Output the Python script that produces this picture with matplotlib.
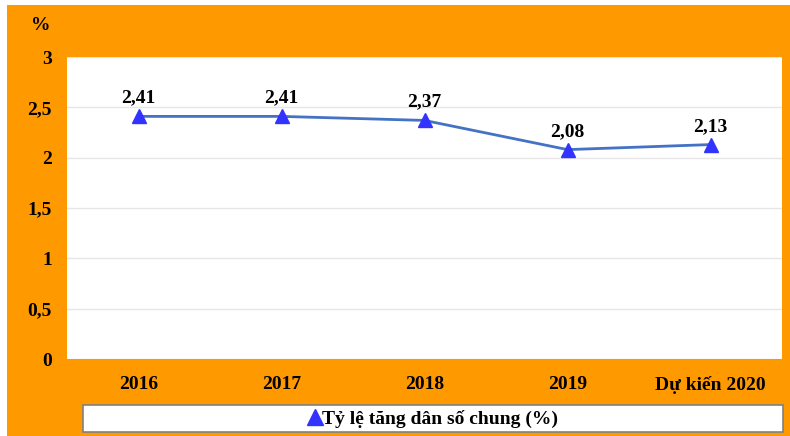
#!/usr/bin/env python3

import matplotlib
matplotlib.use( 'Agg' )
import matplotlib.pyplot as plt
from matplotlib.patches import Rectangle
from matplotlib.lines import Line2D

plt.rcParams['font.family'] = [ 'Liberation Serif', 'DejaVu Serif' ]
plt.rcParams['font.weight'] = 'bold'

years  = [ '2016', '2017', '2018', '2019', 'Dự kiến 2020' ]
rate   = [ 2.41, 2.41, 2.37, 2.08, 2.13 ]
labels = [ '2,41', '2,41', '2,37', '2,08', '2,13' ]
yTicks = [ 0, 0.5, 1, 1.5, 2, 2.5, 3 ]
yTickLabels = [ '0', '0,5', '1', '1,5', '2', '2,5', '3' ]
legLabel = 'Tỷ lệ tăng dân số chung (%)'

orange = '#FF9900'
W, H = 790, 436
fs = 14

fig = plt.figure( figsize = ( W / 100, H / 100 ), dpi = 100 )
fig.patch.set_facecolor( 'white' )
fig.patches.append( Rectangle( ( 7 / W, 0 ), 1 - 7 / W, 1 - 5 / H, \
                               transform = fig.transFigure, \
                               facecolor = orange, edgecolor = 'none', \
                               zorder = -10 ) )

ax = fig.add_axes( [ 67 / W, 1 - 359 / H, 715 / W, 302 / H ] )
ax.set_facecolor( 'white' )

x = list( range( len( years ) ) )
ax.plot( x, rate, color = '#4472C4', lw = 2.0, marker = '^', ms = 10, \
         mfc = '#3333FF', mec = '#3333FF', zorder = 3 )

for i in x:
    ax.annotate( labels[i], ( x[i], rate[i] ), xytext = ( 0, 7 ), \
                 textcoords = 'offset points', ha = 'center', va = 'bottom', \
                 fontsize = fs, fontweight = 'bold', color = 'black' )

ax.set_xlim( -0.5, len( years ) - 0.5 )
ax.set_ylim( 0, 3 )
ax.set_xticks( x )
ax.set_xticklabels( years, fontsize = fs, fontweight = 'bold' )
ax.set_yticks( yTicks )
ax.set_yticklabels( yTickLabels, fontsize = fs, fontweight = 'bold' )
ax.tick_params( axis = 'both', length = 0 )
ax.tick_params( axis = 'x', pad = 12 )
ax.tick_params( axis = 'y', pad = 11 )
ax.grid( axis = 'y', color = '#E6E6E6', lw = 1.0 )
ax.set_axisbelow( True )
for s in ax.spines.values():
    s.set_visible( False )

fig.text( 41 / W, 1 - 26 / H, '%', ha = 'center', va = 'center', \
          fontsize = fs, fontweight = 'bold' )

# legend box
fig.patches.append( Rectangle( ( 83 / W, 4 / H ), 700 / W, 27 / H, \
                               transform = fig.transFigure, \
                               facecolor = 'white', edgecolor = '#808080', \
                               lw = 1.2, zorder = 5 ) )
handle = Line2D( [], [], ls = 'none', marker = '^', ms = 11, \
                 mfc = '#3333FF', mec = '#3333FF' )
leg = fig.legend( [ handle ], [ legLabel ], loc = 'center', \
                  bbox_to_anchor = ( 433 / W, 17.5 / H ), frameon = False, \
                  handlelength = 0.7, handletextpad = 0.05, \
                  prop = { 'size': fs, 'weight': 'bold' } )
leg.set_zorder( 6 )

plt.savefig( 'out.png', dpi = 100 )
plt.close()
